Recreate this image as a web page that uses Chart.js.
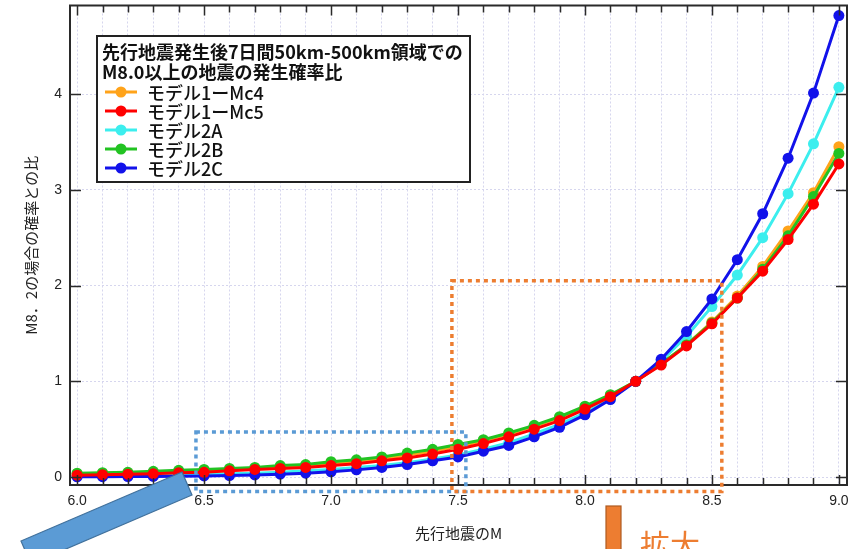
<!DOCTYPE html>
<html>
<head>
<meta charset="utf-8">
<script src="https://cdn.jsdelivr.net/npm/chart.js@4"></script>
<style>
  html, body { margin: 0; padding: 0; background: #fff; }
</style>
</head>
<body>
<canvas id="myChart" width="859" height="549"></canvas>
<script>
// Data
const magnitudes = [6.0, 6.1, 6.2, 6.3, 6.4, 6.5, 6.6, 6.7, 6.8, 6.9,
                    7.0, 7.1, 7.2, 7.3, 7.4, 7.5, 7.6, 7.7, 7.8, 7.9,
                    8.0, 8.1, 8.2, 8.3, 8.4, 8.5, 8.6, 8.7, 8.8, 8.9, 9.0];
const model1Mc4 = [0.035, 0.04, 0.045, 0.05, 0.06, 0.07, 0.08, 0.09, 0.10, 0.12,
                   0.14, 0.16, 0.19, 0.23, 0.27, 0.32, 0.38, 0.45, 0.53, 0.62,
                   0.73, 0.85, 1.00, 1.18, 1.38, 1.62, 1.89, 2.20, 2.57, 2.97, 3.45];
const model1Mc5 = [0.02, 0.025, 0.03, 0.035, 0.045, 0.05, 0.065, 0.08, 0.09, 0.10,
                   0.12, 0.14, 0.17, 0.20, 0.24, 0.29, 0.35, 0.42, 0.50, 0.59,
                   0.71, 0.84, 1.00, 1.17, 1.37, 1.60, 1.87, 2.15, 2.48, 2.85, 3.27];
const model2A = [0.01, 0.012, 0.015, 0.02, 0.025, 0.03, 0.035, 0.04, 0.05, 0.065,
                 0.08, 0.10, 0.12, 0.15, 0.19, 0.23, 0.29, 0.36, 0.45, 0.55,
                 0.67, 0.82, 1.00, 1.21, 1.47, 1.78, 2.11, 2.50, 2.96, 3.48, 4.07];
const model2B = [0.04, 0.045, 0.05, 0.06, 0.07, 0.08, 0.09, 0.10, 0.12, 0.13,
                 0.16, 0.18, 0.21, 0.25, 0.29, 0.34, 0.39, 0.46, 0.54, 0.63,
                 0.74, 0.86, 1.00, 1.18, 1.38, 1.61, 1.87, 2.17, 2.52, 2.93, 3.38];
const model2C = [0.003, 0.004, 0.005, 0.007, 0.009, 0.012, 0.016, 0.022, 0.03, 0.04,
                 0.055, 0.075, 0.10, 0.13, 0.17, 0.21, 0.27, 0.33, 0.42, 0.52,
                 0.65, 0.81, 1.00, 1.23, 1.52, 1.86, 2.27, 2.75, 3.33, 4.01, 4.82];
const seriesNames = ["モデル1ーMc4", "モデル1ーMc5", "モデル2A", "モデル2B", "モデル2C"];
const legendTitle = ["先行地震発生後7日間50km-500km領域での", "M8.0以上の地震の発生確率比"];
const yTickValues = [0, 1, 2, 3, 4];

// zoom boxes in data units (M range, ratio range)
const blueBox = { x0: 6.468, x1: 7.531, y0: -0.15, y1: 0.47 };
const orangeBox = { x0: 7.476, x1: 8.539, y0: -0.15, y1: 2.05 };

const colors = ["#ffa31a", "#ff0000", "#3ceeee", "#22c322", "#1212ea"];
const drawOrder = [3, 0, 4, 2, 1];
const allSeries = [model1Mc4, model1Mc5, model2A, model2B, model2C];

const tickFont = { family: "'Liberation Sans Narrow', 'Liberation Sans', Arial", size: 14 };
const jpFont = "'Noto Sans CJK JP', 'Noto Sans', sans-serif";

const isInt = v => Math.abs(v - Math.round(v)) < 1e-6;

const frame = {
    id: "frame",
    afterDatasetsDraw(chart) {
        const { ctx, chartArea: a, scales: { x, y } } = chart;
        ctx.save();
        ctx.strokeStyle = "#2a2a2a";
        ctx.lineWidth = 1.5;
        x.ticks.forEach(t => {
            const px = Math.round(x.getPixelForValue(t.value)) + 0.5;
            const major = Math.round(t.value * 10) % 5 === 0;
            const len = major ? 10 : 7;
            ctx.beginPath();
            ctx.moveTo(px, a.bottom); ctx.lineTo(px, a.bottom - len);
            ctx.moveTo(px, a.top); ctx.lineTo(px, a.top + len);
            ctx.stroke();
        });
        yTickValues.forEach(v => {
            const py = Math.round(y.getPixelForValue(v)) + 0.5;
            ctx.beginPath();
            ctx.moveTo(a.left, py); ctx.lineTo(a.left + 11, py);
            ctx.moveTo(a.right, py); ctx.lineTo(a.right - 11, py);
            ctx.stroke();
        });
        ctx.lineWidth = 2;
        ctx.strokeRect(a.left, a.top, a.right - a.left, a.bottom - a.top);
        ctx.restore();
    }
};

const boxLegend = {
    id: "boxLegend",
    afterDatasetsDraw(chart) {
        const ctx = chart.ctx;
        const bx = 97, by = 36, bw = 373, bh = 146;
        ctx.save();
        ctx.fillStyle = "#fff";
        ctx.fillRect(bx, by, bw, bh);
        ctx.strokeStyle = "#222";
        ctx.lineWidth = 2;
        ctx.strokeRect(bx, by, bw, bh);
        ctx.fillStyle = "#111";
        ctx.textBaseline = "middle";
        ctx.font = "bold 18px " + jpFont;
        ctx.fillText(legendTitle[0], 102, 52);
        ctx.fillText(legendTitle[1], 102, 72);
        ctx.font = "500 18px " + jpFont;
        chart.data.datasets.forEach((ds, i) => {
            const cy = 92 + i * 19;
            ctx.strokeStyle = ds.borderColor;
            ctx.lineWidth = 3;
            ctx.beginPath(); ctx.moveTo(105, cy); ctx.lineTo(137, cy); ctx.stroke();
            ctx.fillStyle = ds.backgroundColor;
            ctx.beginPath(); ctx.arc(121, cy, 5.5, 0, Math.PI * 2); ctx.fill();
            ctx.fillStyle = "#111";
            ctx.fillText(ds.label, 147, cy + 1);
        });
        ctx.restore();
    }
};

const extras = {
    id: "extras",
    afterDraw(chart) {
        const { ctx, scales: { x, y } } = chart;
        ctx.save();
        // dotted zoom boxes
        const dotted = (b, col) => {
            ctx.strokeStyle = col;
            ctx.lineWidth = 3.5;
            ctx.setLineDash([4, 4]);
            ctx.strokeRect(x.getPixelForValue(b.x0), y.getPixelForValue(b.y1),
                x.getPixelForValue(b.x1) - x.getPixelForValue(b.x0),
                y.getPixelForValue(b.y0) - y.getPixelForValue(b.y1));
        };
        dotted(blueBox, "#5b9bd5");
        dotted(orangeBox, "#ed7d31");
        ctx.setLineDash([]);
        // blue arrow band
        ctx.fillStyle = "#5b9bd5";
        ctx.strokeStyle = "#41719c";
        ctx.lineWidth = 1.2;
        ctx.beginPath();
        ctx.moveTo(182, 472); ctx.lineTo(192, 495); ctx.lineTo(31, 564); ctx.lineTo(21, 541);
        ctx.closePath(); ctx.fill(); ctx.stroke();
        // orange bar
        ctx.fillStyle = "#ed7d31";
        ctx.strokeStyle = "#ae5a21";
        ctx.fillRect(606, 506, 15, 50);
        ctx.strokeRect(606, 506, 15, 50);
        ctx.fillStyle = "#ed7d31";
        ctx.font = "30px " + jpFont;
        ctx.textBaseline = "alphabetic";
        ctx.fillText("拡大", 640, 556);
        ctx.restore();
    }
};

const datasets = allSeries.map((vals, i) => ({
    label: seriesNames[i],
    data: magnitudes.map((m, j) => ({ x: m, y: vals[j] })),
    borderColor: colors[i],
    backgroundColor: colors[i],
    pointBackgroundColor: colors[i],
    borderWidth: 3,
    pointRadius: 5.5,
    pointBorderWidth: 0,
    order: drawOrder[i],
    tension: 0
}));

new Chart(document.getElementById("myChart"), {
    type: "line",
    data: { datasets: datasets },
    options: {
        responsive: false,
        animation: false,
        layout: { padding: { top: 5, right: 12, left: 0, bottom: 0 } },
        plugins: { legend: { display: false }, tooltip: { enabled: false } },
        scales: {
            x: {
                type: "linear",
                min: 5.972,
                max: 9.032,
                afterFit: s => { s.height = 64; s.paddingLeft = 0; s.paddingRight = 0; },
                grid: { color: "#d6d6ee", lineWidth: 1, drawTicks: false },
                border: { display: false, dash: [2, 2] },
                ticks: {
                    stepSize: 0.1,
                    includeBounds: false,
                    autoSkip: false,
                    maxRotation: 0,
                    padding: 8,
                    color: "#222",
                    font: tickFont,
                    callback: v => (Math.round(v * 10) % 5 === 0 ? v.toFixed(1) : "")
                },
                title: {
                    display: true,
                    text: "先行地震のM",
                    color: "#222",
                    font: { family: jpFont, size: 15 },
                    padding: { top: 0, bottom: 7 }
                }
            },
            y: {
                min: -0.083,
                max: 4.925,
                afterFit: s => { s.width = 70; s.paddingTop = 0; s.paddingBottom = 0; },
                grid: { color: "#d6d6ee", lineWidth: 1, drawTicks: false },
                border: { display: false, dash: [2, 2] },
                ticks: {
                    stepSize: 1,
                    includeBounds: false,
                    autoSkip: false,
                    padding: 8,
                    color: "#222",
                    font: tickFont,
                    callback: v => (isInt(v) ? String(Math.round(v)) : "")
                },
                title: {
                    display: true,
                    text: "M8．2の場合の確率との比",
                    color: "#222",
                    font: { family: jpFont, size: 15 },
                    padding: { top: 22, bottom: 0 }
                }
            }
        }
    },
    plugins: [frame, boxLegend, extras]
});
</script>
</body>
</html>
